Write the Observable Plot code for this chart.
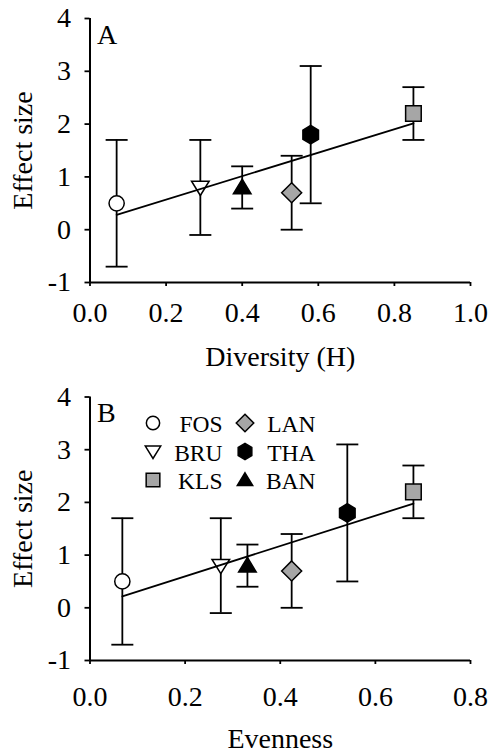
<!DOCTYPE html>
<html>
<head>
<meta charset="utf-8">
<script src="https://cdn.jsdelivr.net/npm/d3@7"></script>
<script src="https://cdn.jsdelivr.net/npm/@observablehq/plot@0.6"></script>
<style>
  html, body { margin: 0; padding: 0; background: #fff; }
  #chart svg { display: block; }
</style>
</head>
<body>
<div id="chart"></div>
<script>
// ---- data ----
const sites = ["FOS", "BRU", "BAN", "LAN", "THA", "KLS"];
const diversity = [0.07, 0.29, 0.40, 0.53, 0.58, 0.85];
const evenness = [0.068, 0.275, 0.331, 0.424, 0.541, 0.680];
const effect = [0.5, 0.8, 0.8, 0.7, 1.8, 2.2];
const upper = [1.7, 1.7, 1.2, 1.4, 3.1, 2.7];
const lower = [-0.7, -0.1, 0.4, 0.0, 0.5, 1.7];
const legendOrder = ["FOS", "BRU", "KLS", "LAN", "THA", "BAN"];
const yTicks = [-1, 0, 1, 2, 3, 4];
const xTicksA = [0, 0.2, 0.4, 0.6, 0.8, 1.0];
const xTicksB = [0, 0.2, 0.4, 0.6, 0.8];

// ---- styles ----
const FONT = '"Liberation Serif", "Times New Roman", serif';
const GRAY = "#a6a6a6";
const W = 491, ML = 89.5, MR = 21;

function poly(points) {
  return {
    draw(ctx, size) {
      const k = Math.sqrt(size / Math.PI) / 8;
      ctx.moveTo(points[0][0] * k, points[0][1] * k);
      for (let i = 1; i < points.length; ++i) ctx.lineTo(points[i][0] * k, points[i][1] * k);
      ctx.closePath();
    }
  };
}
const circleSym = {
  draw(ctx, size) {
    const k = Math.sqrt(size / Math.PI) / 8;
    const r = 7.6 * k;
    ctx.moveTo(r, 0);
    ctx.arc(0, 0, r, 0, 2 * Math.PI);
    ctx.closePath();
  }
};
const triDown = poly([[-8.8, -6.2], [8.8, -6.2], [0, 8]]);
const triUp = poly([[0, -8.2], [8.8, 6.4], [-8.8, 6.4]]);
const diamondSym = poly([[0, -10], [10, 0], [0, 10], [-10, 0]]);
const hexSym = poly([[0, -9.2], [7.8, -4.6], [7.8, 4.6], [0, 9.2], [-7.8, 4.6], [-7.8, -4.6]]);
const squareSym = poly([[-7.8, -7.8], [7.8, -7.8], [7.8, 7.8], [-7.8, 7.8]]);
const capSym = {
  draw(ctx, size) {
    const k = Math.sqrt(size / Math.PI) / 8;
    ctx.moveTo(-11 * k, 0);
    ctx.lineTo(11 * k, 0);
  }
};
const symbolOf = {FOS: circleSym, BRU: triDown, BAN: triUp, LAN: diamondSym, THA: hexSym, KLS: squareSym};
const fillOf = {FOS: "white", BRU: "white", BAN: "black", LAN: GRAY, THA: "black", KLS: GRAY};

function panel(o) {
  const rows = sites.map((s, i) => ({site: s, x: o.xs[i], y: effect[i], lo: lower[i], hi: upper[i]}));
  const frameCx = ML + (W - ML - MR) / 2;
  const marks = [
    Plot.ruleX(rows, {x: "x", y1: "lo", y2: "hi", stroke: "black", strokeWidth: 1.8}),
    Plot.dot(rows, {x: "x", y: "hi", symbol: capSym, r: 8, stroke: "black", fill: "none", strokeWidth: 1.8}),
    Plot.dot(rows, {x: "x", y: "lo", symbol: capSym, r: 8, stroke: "black", fill: "none", strokeWidth: 1.8}),
    ...sites.map(s => Plot.dot(rows.filter(d => d.site === s), {
      x: "x", y: "y", symbol: symbolOf[s], r: 8, fill: fillOf[s], stroke: "black", strokeWidth: 1.5
    })),
    Plot.linearRegressionY(rows, {x: "x", y: "y", ci: 0, stroke: "black", strokeWidth: 1.8}),
    Plot.ruleX([0], {stroke: "black", strokeWidth: 2}),
    Plot.ruleY([-1], {stroke: "black", strokeWidth: 2}),
    Plot.axisY({ticks: yTicks, tickSize: 5, tickPadding: 14, tickFormat: d => String(d),
      label: null, strokeWidth: 1.8, fontSize: 28, fill: "black"}),
    Plot.axisX({ticks: o.xTicks, tickSize: 4, tickPadding: o.xTickGap - 4, tickFormat: d3.format(".1f"),
      label: null, strokeWidth: 1.8, fontSize: 28, fill: "black"}),
    Plot.text([o.tag], {text: d => d, frameAnchor: "top-left", dx: 7, dy: o.tagDy, textAnchor: "start",
      lineAnchor: "middle", fontSize: 28, fill: "black"}),
    Plot.text(["Effect size"], {text: d => d, frameAnchor: "middle", rotate: -90, dx: 23 - frameCx,
      textAnchor: "middle", lineAnchor: "middle", fontSize: 28, fill: "black"}),
    Plot.text([o.xLabel], {text: d => d, frameAnchor: "bottom", dy: o.xLabelGap, textAnchor: "middle",
      lineAnchor: "middle", fontSize: 28, fill: "black"})
  ];
  if (o.legend) {
    legendOrder.forEach((s, i) => {
      const col = Math.floor(i / 3), row = i % 3;
      marks.push(Plot.dot([s], {frameAnchor: "top-left", dx: [63, 155][col], dy: 26 + row * 28.5,
        symbol: symbolOf[s], r: 7, fill: fillOf[s], stroke: "black", strokeWidth: 1.5}));
      marks.push(Plot.text([s], {text: d => d, frameAnchor: "top-left", dx: [132.5, 225.5][col],
        dy: 27.5 + row * 28.5, textAnchor: "end", lineAnchor: "middle", fontSize: 23.5, fill: "black"}));
    });
  }
  return Plot.plot({
    width: W,
    height: o.height,
    marginTop: o.mTop,
    marginBottom: o.mBottom,
    marginLeft: ML,
    marginRight: MR,
    x: {domain: o.xDomain},
    y: {domain: [-1, 4]},
    style: {fontFamily: FONT, fontSize: "28px", color: "black", background: "white", overflow: "visible"},
    marks
  });
}

const chart = document.getElementById("chart");
chart.append(panel({
  xs: diversity, xTicks: xTicksA, xDomain: [0, 1], xLabel: "Diversity (H)", tag: "A",
  height: 378, mTop: 18, mBottom: 96, xTickGap: 20, xLabelGap: 75, tagDy: 17, legend: false
}));
chart.append(panel({
  xs: evenness, xTicks: xTicksB, xDomain: [0, 0.8], xLabel: "Evenness", tag: "B",
  height: 377, mTop: 18.5, mBottom: 95, xTickGap: 26, xLabelGap: 79, tagDy: 16.5, legend: true
}));
</script>
</body>
</html>
